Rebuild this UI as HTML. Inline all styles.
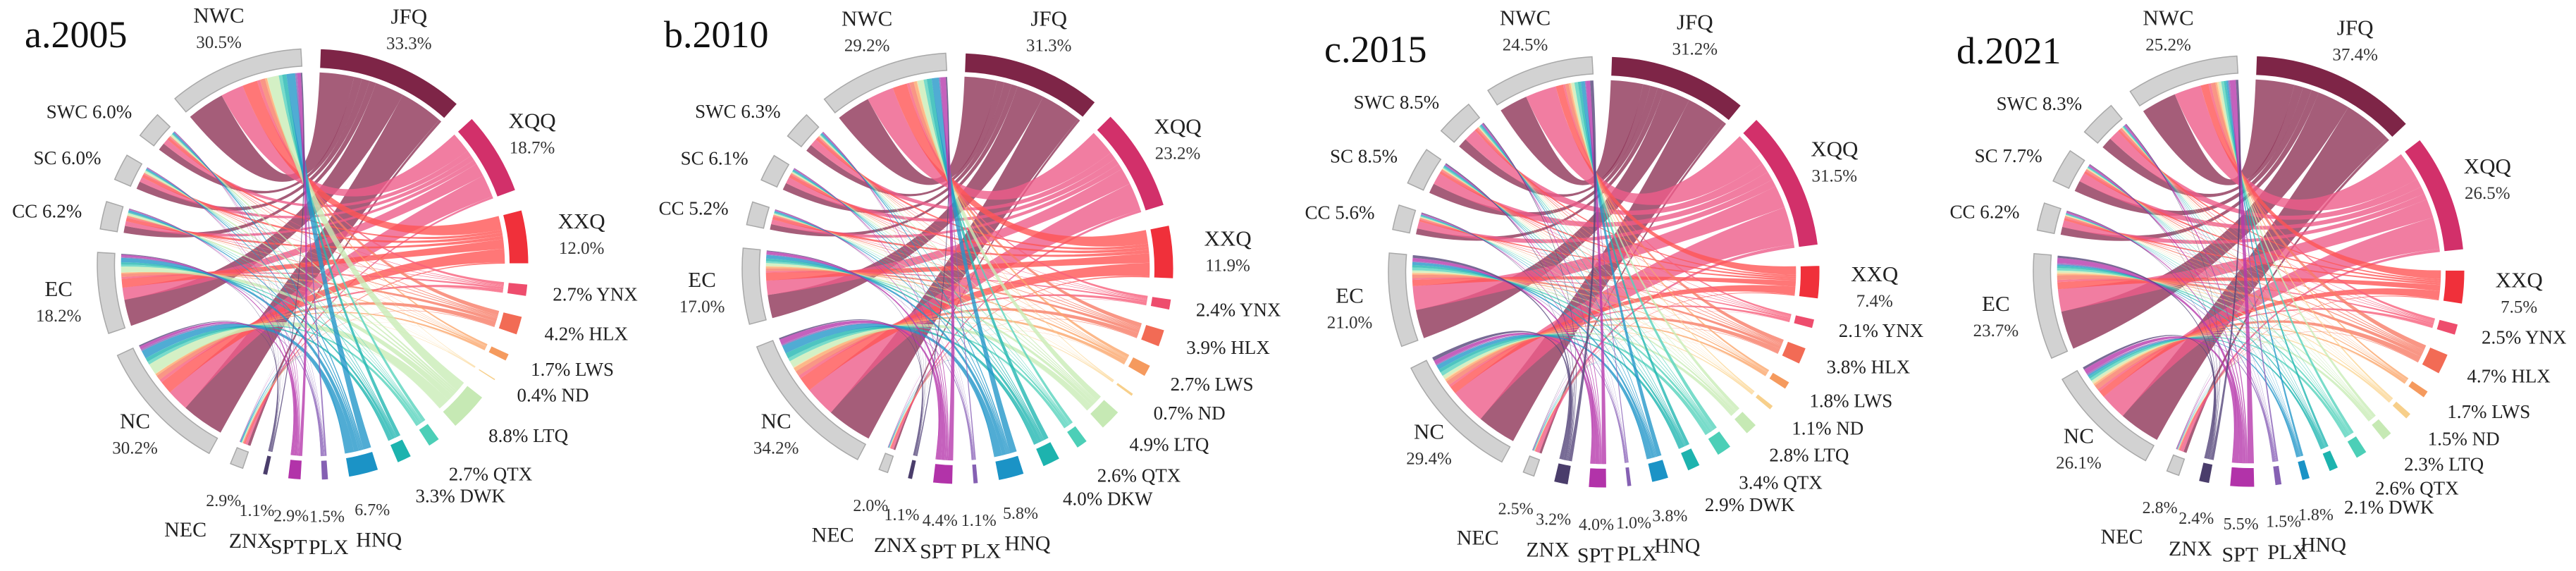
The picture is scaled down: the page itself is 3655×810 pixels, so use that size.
<!DOCTYPE html>
<html><head><meta charset="utf-8">
<style>
html,body{margin:0;padding:0;background:#fff;}
svg{display:block;font-family:"Liberation Serif","DejaVu Serif",serif;}
</style></head>
<body>
<svg id="chart" width="3655" height="810" viewBox="0 0 3655 810" xmlns="http://www.w3.org/2000/svg"></svg>
<script>
// ---- data ----
const panelTitles = ['a.2005','b.2010','c.2015','d.2021'];
const srcNames = ['JFQ','XQQ','XXQ','YNX','HLX','LWS','ND','LTQ','QTX','DWK','HNQ','PLX','SPT','ZNX'];
const tgtNames = ['NEC','NC','EC','CC','SC','SWC','NWC'];
const src2005 = [33.3,18.7,12.0,2.7,4.2,1.7,0.4,8.8,2.7,3.3,6.7,1.5,2.9,1.1];
const src2010 = [31.3,23.2,11.9,2.4,3.9,2.7,0.7,4.9,2.6,4.0,5.8,1.1,4.4,1.1];
const src2015 = [31.2,31.5,7.4,2.1,3.8,1.8,1.1,2.8,3.4,2.9,3.8,1.0,4.0,3.2];
const src2021 = [37.4,26.5,7.5,2.5,4.7,1.7,1.5,2.3,2.6,2.1,1.8,1.5,5.5,2.4];
const tgt2005 = [2.9,30.2,18.2,6.2,6.0,6.0,30.5];
const tgt2010 = [2.0,34.2,17.0,5.2,6.1,6.3,29.2];
const tgt2015 = [2.5,29.4,21.0,5.6,8.5,8.5,24.5];
const tgt2021 = [2.8,26.1,23.7,6.2,7.7,8.3,25.2];
// estimated share of each source flowing to targets NEC,NC,EC,CC,SC,SWC,NWC
const shareJFQ = [0.02,0.33,0.22,0.05,0.06,0.06,0.26];
const shareXQQ = [0.03,0.30,0.18,0.06,0.07,0.08,0.28];
const shareXXQ = [0.03,0.28,0.20,0.07,0.07,0.06,0.29];
const shareYNX = [0.03,0.30,0.20,0.07,0.07,0.07,0.26];
const shareHLX = [0.04,0.30,0.20,0.07,0.06,0.06,0.27];
const shareLWS = [0.03,0.32,0.20,0.06,0.06,0.06,0.27];
const shareND  = [0.03,0.30,0.20,0.06,0.06,0.06,0.29];
const shareLTQ = [0.02,0.32,0.18,0.06,0.06,0.06,0.30];
const shareQTX = [0.03,0.30,0.20,0.06,0.06,0.06,0.29];
const shareDWK = [0.03,0.30,0.20,0.06,0.06,0.06,0.29];
const shareHNQ = [0.03,0.32,0.18,0.06,0.05,0.06,0.30];
const sharePLX = [0.03,0.30,0.20,0.06,0.06,0.06,0.29];
const shareSPT = [0.03,0.28,0.20,0.07,0.06,0.06,0.30];
const shareZNX = [0.03,0.30,0.20,0.06,0.06,0.06,0.29];

const srcData = [src2005,src2010,src2015,src2021];
const tgtData = [tgt2005,tgt2010,tgt2015,tgt2021];
const shares = [shareJFQ,shareXQQ,shareXXQ,shareYNX,shareHLX,shareLWS,shareND,shareLTQ,shareQTX,shareDWK,shareHNQ,sharePLX,shareSPT,shareZNX];

// ---- style/layout ----
const arcColors = ['#7e2547','#d2306a','#f0303a','#ee4d6d','#f26b55','#f59a5e','#f7cf8a','#c6e9b4','#4ccfb7','#1db3ae','#1b93c6','#8560b3','#b233a9','#4a3d6b'];
const chordColors = ['#8e3558','#ee5c8a','#ff5555','#f75f7c','#f87c66','#fba66c','#fbd694','#c9ecb7','#58d3bd','#22b6b1','#2497c9','#8a62b8','#b63aad','#55467a'];
const centers = [[444,375],[1359,381],[2276,386],[3191,385]];
const titlePos = [[35,67],[942,67],[1879,88],[2776,90]];
const R = 306, K = 1.2, srcStart = 2, srcPad = 5.5, tgtStart = 199, tgtPad = 6.3;
const NS = 'http://www.w3.org/2000/svg';
const svg = document.getElementById('chart');

function pt(cx,cy,r,a){const t=a*Math.PI/180;return [cx+r*Math.sin(t), cy-r*Math.cos(t)];}
function f(p){return p[0].toFixed(1)+' '+p[1].toFixed(1);}
function mk(tag,attrs,parent){const e=document.createElementNS(NS,tag);for(const k in attrs)e.setAttribute(k,attrs[k]);(parent||svg).appendChild(e);return e;}

const stackT = ['JFQ','XQQ','XXQ','NWC','EC','NC'];
const leftT = ['SWC','SC','CC'];
const bottomT = ['HNQ','PLX','SPT','ZNX','NEC'];

function label(g,cx,cy,name,pctv,mid){
  const pct = pctv.toFixed(1)+'%';
  if(stackT.includes(name)){
    let r = 1.19;
    if(name==='NC') r=1.13;
    const p = pt(cx,cy,R*r,mid);
    let dx = 0;
    if(name==='XXQ') dx = 20;
    const t1 = mk('text',{x:p[0]+dx,y:p[1]-4,'font-size':31,'text-anchor':'middle',fill:'#222'},g);
    t1.textContent = name;
    
    
    const t2 = mk('text',{x:p[0]+dx,y:p[1]+32,'font-size':25,'text-anchor':'middle',fill:'#333'},g);
    t2.textContent = pct;
    
    
  } else if(leftT.includes(name)){
    const p = pt(cx,cy,R*1.1,mid);
    const t = mk('text',{x:p[0],y:p[1]+10,'font-size':27,'text-anchor':'end',fill:'#222'},g);
    t.textContent = name+' '+pct;
    
    
  } else if(bottomT.includes(name)){
    const p1 = pt(cx,cy,R*1.17,mid), p2 = pt(cx,cy,R*1.3,mid);
    let nx = p2[0]; if(name==='NEC') nx -= 40;
    const t1 = mk('text',{x:p1[0],y:p1[1]+8,'font-size':24,'text-anchor':'middle',fill:'#333'},g);
    t1.textContent = pct;
    
    
    const t2 = mk('text',{x:nx,y:p2[1]+14,'font-size':30,'text-anchor':'middle',fill:'#222'},g);
    t2.textContent = name;
    
    
  } else {
    const p = pt(cx,cy,R*1.12,mid);
    const extra = mid>120 ? (mid-120)*0.5 : 0;
    const t = mk('text',{x:p[0],y:p[1]+10+extra,'font-size':27,'text-anchor':'start',fill:'#222'},g);
    t.textContent = pct+' '+name;
    
    
  }
}

function arcPath(cx,cy,r0,r1,a1,a2){
  const lg = (a2-a1)>180?1:0;
  return 'M'+f(pt(cx,cy,r1,a1))+' A'+r1+' '+r1+' 0 '+lg+' 1 '+f(pt(cx,cy,r1,a2))+
    ' L'+f(pt(cx,cy,r0,a2))+' A'+r0+' '+r0+' 0 '+lg+' 0 '+f(pt(cx,cy,r0,a1))+' Z';
}

panelTitles.forEach((title,pi)=>{
  const [cx,cy] = centers[pi];
  const src = srcData[pi], tgt = tgtData[pi];
  const g = mk('g',{});
  
  

  const sA=[]; let a=srcStart;
  src.forEach(v=>{sA.push([a,a+v*K]); a+=v*K+srcPad;});
  const tA=[]; a=tgtStart;
  tgt.forEach(v=>{tA.push([a,a+v*K]); a+=v*K+tgtPad;});

  const flows = src.map((s,i)=>shares[i].map(sh=>s*sh));
  const colSum = tgt.map((_,j)=>flows.reduce((acc,row)=>acc+row[j],0));

  const srcSeg = flows.map((row,i)=>{
    const tot = row.reduce((x,y)=>x+y,0);
    const span = sA[i][1]-sA[i][0];
    const segs = new Array(row.length);
    let cur = sA[i][0];
    for(let j=row.length-1;j>=0;j--){const w=row[j]/tot*span; segs[j]=[cur,cur+w]; cur+=w;}
    return segs;
  });
  const tgtSeg = tgt.map((t,j)=>{
    const span = tA[j][1]-tA[j][0];
    const segs=[]; let cur=tA[j][0];
    flows.forEach((row)=>{const w=row[j]/colSum[j]*span; segs.push([cur,cur+w]); cur+=w;});
    return segs;
  });

  const rc = R*0.89;
  const cg = mk('g',{},g);
  
  
  flows.forEach((row,i)=>{
    row.forEach((v,j)=>{
      const s=srcSeg[i][j], t=tgtSeg[j][i];
      const d='M'+f(pt(cx,cy,rc,s[0]))+' A'+rc+' '+rc+' 0 0 1 '+f(pt(cx,cy,rc,s[1]))+
        ' Q'+cx+' '+cy+' '+f(pt(cx,cy,rc,t[0]))+' A'+rc+' '+rc+' 0 0 1 '+f(pt(cx,cy,rc,t[1]))+
        ' Q'+cx+' '+cy+' '+f(pt(cx,cy,rc,s[0]))+' Z';
      const p = mk('path',{d:d,fill:chordColors[i],'fill-opacity':0.8},cg);
      
      
    });
  });

  sA.forEach((ang,i)=>{
    const p = mk('path',{d:arcPath(cx,cy,R*0.91,R,ang[0],ang[1]),fill:arcColors[i],stroke:'#ffffff','stroke-width':1},g);
    
    
    const nm = (pi===1 && srcNames[i]==='DWK') ? 'DKW' : srcNames[i];
    label(g,cx,cy,nm,src[i],(ang[0]+ang[1])/2);
  });
  tA.forEach((ang,j)=>{
    const p = mk('path',{d:arcPath(cx,cy,R*0.92,R,ang[0],ang[1]),fill:'#d2d2d2',stroke:'#a8a8a8','stroke-width':1.5},g);
    
    
    label(g,cx,cy,tgtNames[j],tgt[j],(ang[0]+ang[1])/2);
  });

  const tt = mk('text',{x:titlePos[pi][0],y:titlePos[pi][1],'font-size':54,fill:'#111'},g);
  tt.textContent = title;
  
  
});
</script>
</body></html>
